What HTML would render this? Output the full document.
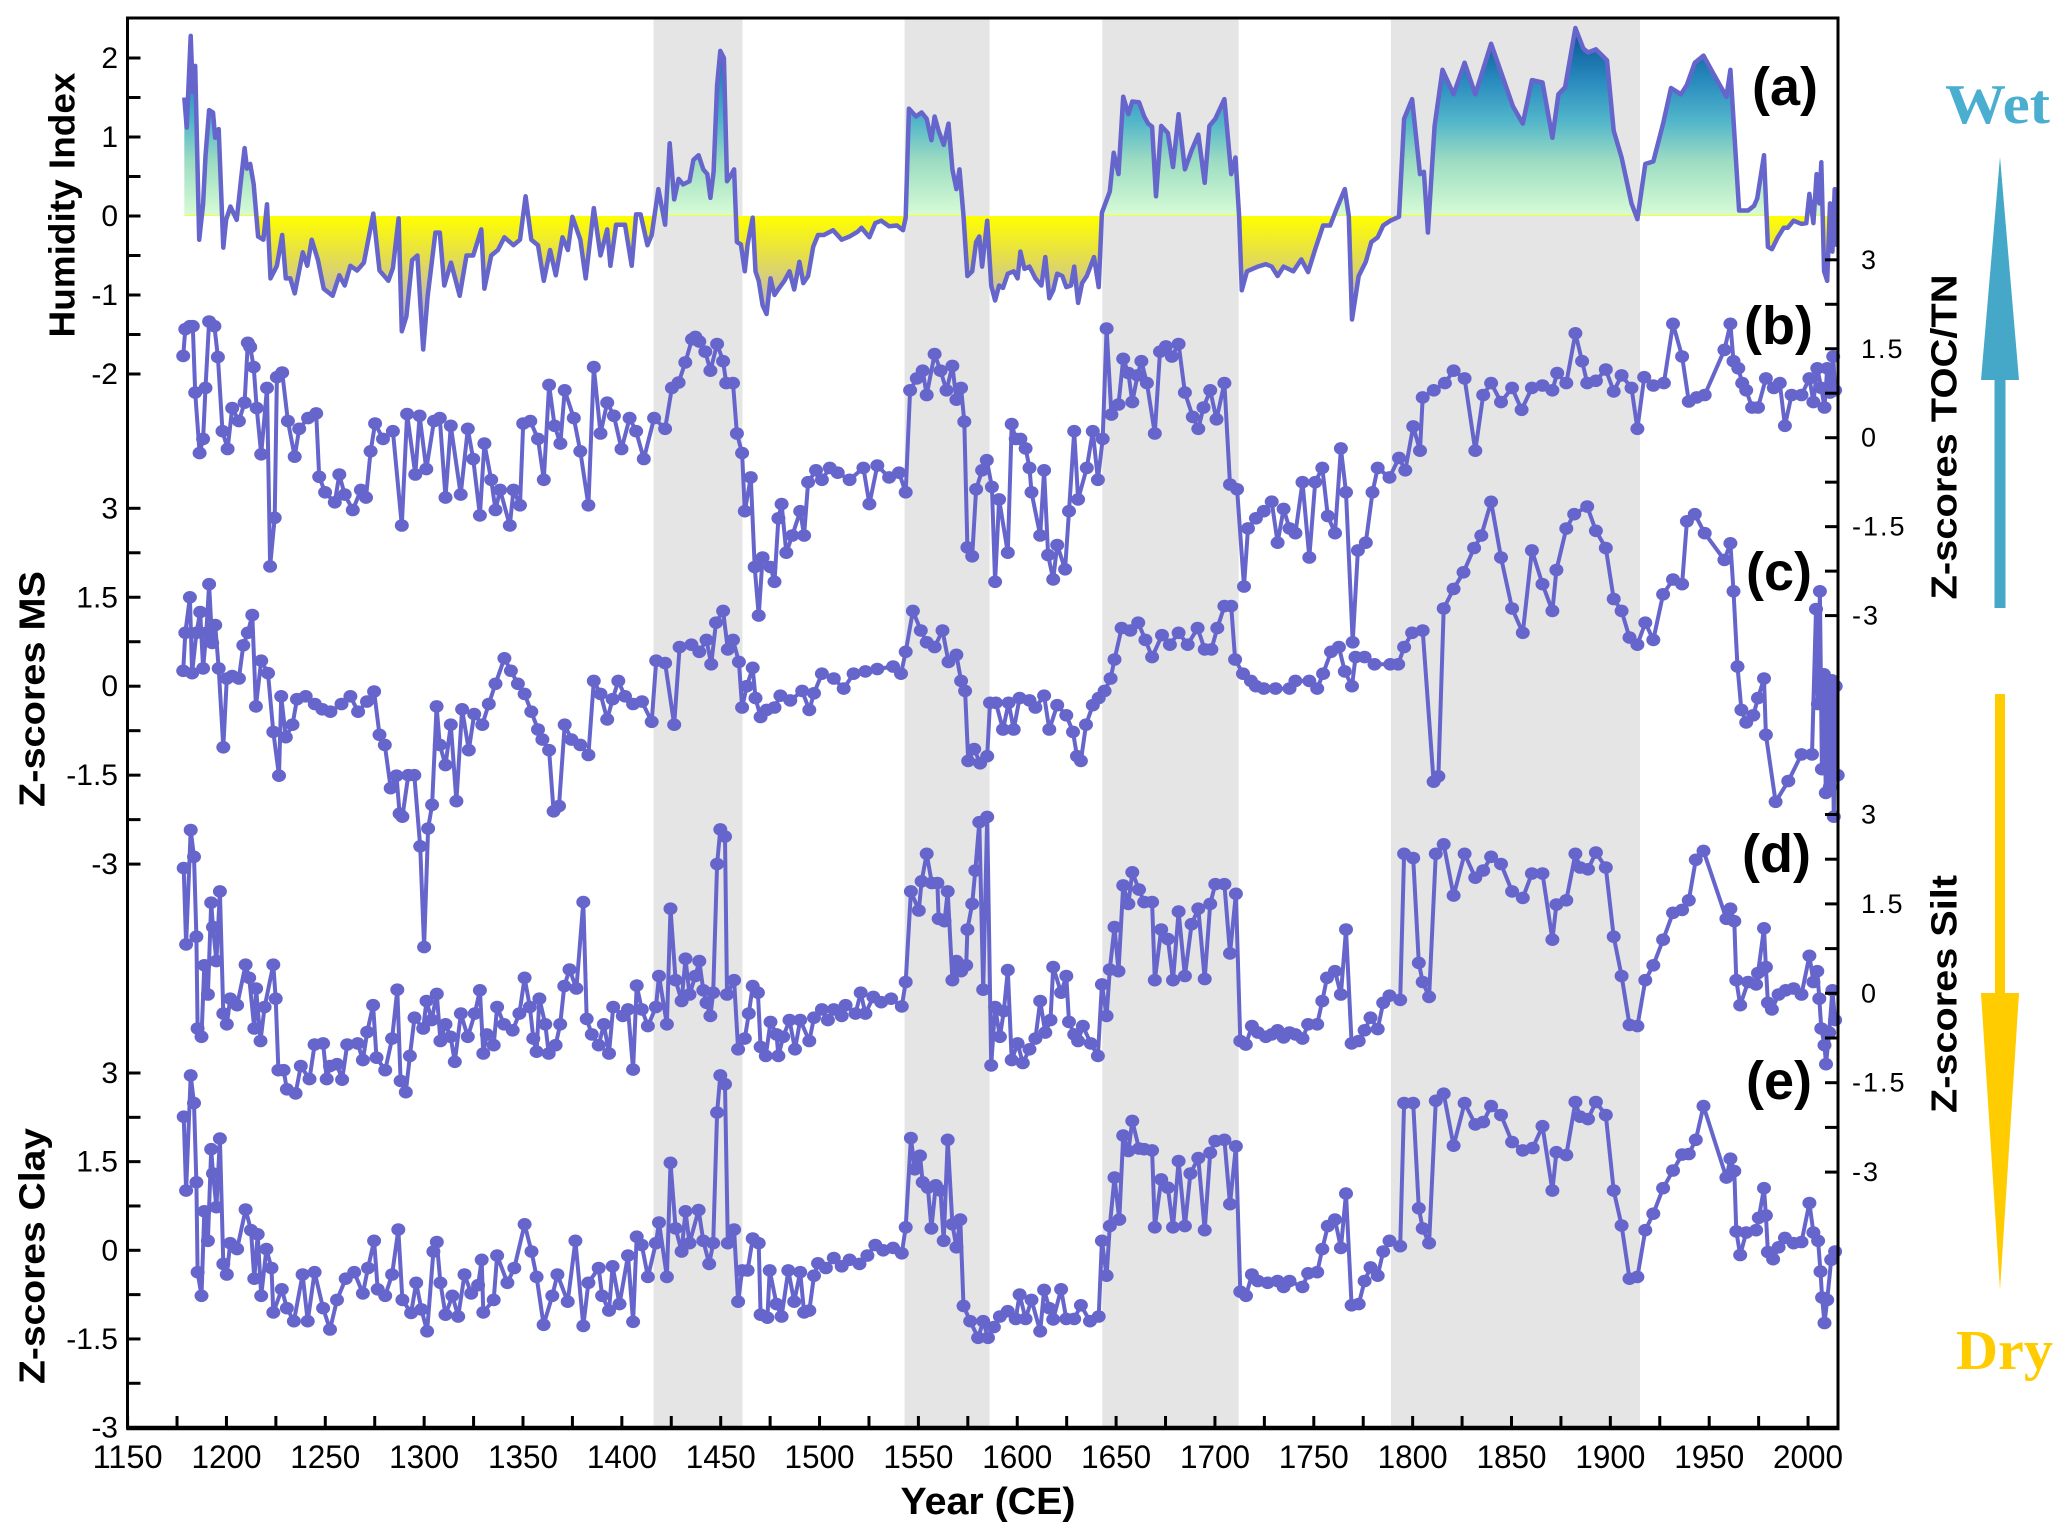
<!DOCTYPE html>
<html>
<head>
<meta charset="utf-8">
<style>
html,body{margin:0;padding:0;background:#fff;}
svg{display:block;}
text{font-family:"Liberation Sans",sans-serif;}
</style>
</head>
<body>
<svg id="chart" xmlns="http://www.w3.org/2000/svg" width="2067" height="1539" viewBox="0 0 2067 1539">
<defs>
<linearGradient id="humGrad" gradientUnits="userSpaceOnUse" x1="0" x2="0" y1="26" y2="358">
<stop id="s0" offset="0" stop-color="#0a5898"/>
</linearGradient>
</defs>
<g id="bands"></g>
<g id="series"></g>
<g id="axes"></g>
<g id="labels"></g>
</svg>
<script>
// ---------- data ----------
const bandStarts = [1416, 1543, 1643, 1789];
const bandEnds = [1461, 1586, 1712, 1915];

const humYears = [1178.7,1179.9,1181.9,1183.0,1184.2,1186.2,1188.2,1189.4,1191.2,1193.2,
1194.3,1196.1,1198.4,1199.8,1202.0,1205.2,1207.4,1209.2,1210.4,1212.0,
1213.8,1216.0,1218.7,1220.5,1222.3,1225.5,1228.2,1230.0,1232.3,1234.5,
1238.6,1240.9,1243.1,1246.3,1249.2,1253.7,1257.1,1259.8,1262.7,1266.1,
1269.5,1274.3,1277.4,1281.9,1284.2,1287.1,1288.7,1291.0,1293.9,1296.6,
1299.5,1301.8,1305.7,1307.9,1310.2,1313.6,1318.0,1321.4,1324.8,1328.9,
1330.5,1333.9,1337.3,1340.6,1345.2,1348.5,1351.3,1354.2,1357.6,1360.5,
1363.7,1366.6,1370.0,1372.7,1375.0,1379.0,1381.7,1385.8,1389.2,1392.6,
1394.2,1397.1,1401.6,1405.0,1407.2,1409.5,1412.9,1415.1,1418.5,1421.9,
1424.2,1426.5,1428.7,1431.0,1434.2,1436.2,1438.8,1441.2,1443.2,1444.8,
1446.4,1448.2,1449.8,1451.6,1453.2,1454.8,1456.8,1458.2,1460.2,1462.2,
1463.6,1466.2,1467.6,1469.2,1471.2,1473.2,1475.2,1477.2,1479.6,1482.2,
1484.8,1487.2,1489.8,1491.8,1494.2,1496.8,1499.2,1502.2,1506.8,1511.2,
1515.2,1519.2,1521.2,1525.2,1528.2,1531.2,1535.2,1539.2,1542.2,1543.6,
1545.2,1548.8,1551.6,1554.2,1556.6,1558.2,1560.2,1562.8,1565.2,1567.2,
1569.2,1570.8,1572.8,1574.8,1577.2,1579.2,1580.8,1582.2,1584.8,1586.8,
1588.8,1590.8,1592.8,1595.2,1598.2,1600.2,1601.6,1603.6,1606.2,1609.2,
1612.2,1614.2,1616.2,1618.2,1620.2,1622.8,1624.8,1627.2,1628.8,1630.8,
1632.8,1635.2,1638.8,1641.2,1642.8,1646.8,1648.8,1651.2,1653.6,1656.2,
1658.2,1661.6,1664.2,1666.2,1668.2,1670.2,1672.8,1676.2,1678.8,1681.6,
1684.8,1688.2,1691.6,1694.8,1697.2,1700.2,1704.8,1708.2,1710.4,1712.2,
1713.6,1716.2,1721.7,1725.7,1728.7,1731.7,1734.7,1739.7,1743.7,1747.1,
1750.7,1754.7,1758.3,1761.7,1765.7,1767.7,1769.3,1772.7,1776.3,1779.1,
1782.3,1785.1,1788.7,1793.1,1795.7,1799.7,1803.7,1805.7,1807.7,1811.1,
1815.1,1820.7,1826.3,1831.7,1839.7,1845.7,1850.7,1855.7,1860.3,1865.7,
1870.7,1873.7,1877.1,1882.3,1886.3,1888.7,1892.7,1898.3,1901.7,1905.7,
1910.7,1913.7,1917.7,1921.7,1926.7,1930.7,1935.7,1938.7,1942.7,1947.1,
1951.7,1958.7,1960.7,1965.1,1969.7,1972.7,1974.3,1977.7,1979.7,1981.7,
1984.7,1987.7,1989.7,1992.7,1996.7,1999.1,2000.7,2002.7,2004.3,2005.7,
2006.7,2008.1,2009.7,2011.1,2012.3,2013.5,2014.3];
const humVals = [1.5,1.12,2.28,1.57,1.9,-0.3,0.15,0.76,1.34,1.31,
0.99,1.1,-0.4,-0.05,0.12,-0.05,0.47,0.86,0.6,0.66,
0.4,-0.26,-0.3,0.15,-0.79,-0.63,-0.24,-0.79,-0.79,-0.98,
-0.46,-0.63,-0.3,-0.56,-0.92,-1.01,-0.75,-0.88,-0.63,-0.69,
-0.59,0.03,-0.69,-0.82,-0.66,-0.03,-1.46,-1.27,-0.56,-0.5,
-1.69,-1.01,-0.21,-0.21,-0.88,-0.59,-1.01,-0.5,-0.5,-0.17,
-0.92,-0.5,-0.43,-0.27,-0.37,-0.3,0.25,-0.3,-0.37,-0.82,
-0.43,-0.75,-0.27,-0.43,-0.01,-0.3,-0.79,0.1,-0.5,-0.17,
-0.63,-0.11,-0.11,-0.63,0.02,0.02,-0.37,-0.24,0.34,-0.11,
0.92,0.21,0.47,0.4,0.44,0.71,0.77,0.59,0.53,0.23,
0.56,1.66,2.09,2.0,0.44,0.5,0.59,-0.33,-0.36,-0.7,
-0.36,-0.02,-0.7,-0.82,-1.13,-1.24,-0.79,-1.0,-0.91,-0.82,
-0.7,-0.93,-0.58,-0.85,-0.76,-0.39,-0.24,-0.24,-0.18,-0.3,
-0.26,-0.2,-0.15,-0.27,-0.09,-0.06,-0.13,-0.12,-0.18,-0.02,
1.36,1.26,1.31,1.23,0.96,1.26,1.08,0.9,1.17,0.59,
0.34,0.59,0.0,-0.76,-0.7,-0.33,-0.26,-0.64,-0.06,-0.88,
-1.07,-0.88,-0.91,-0.73,-0.7,-0.79,-0.45,-0.67,-0.64,-0.79,
-0.88,-0.52,-1.04,-0.94,-0.73,-0.76,-0.9,-0.88,-0.64,-1.1,
-0.85,-0.76,-0.52,-0.9,0.04,0.31,0.8,0.53,1.51,1.29,
1.45,1.44,1.26,1.17,1.13,0.25,1.14,1.05,0.62,1.29,
0.59,0.83,1.03,0.42,1.14,1.23,1.48,0.53,0.74,0.0,
-0.94,-0.7,-0.64,-0.61,-0.64,-0.76,-0.64,-0.7,-0.55,-0.71,
-0.42,-0.12,-0.12,0.1,0.34,0.0,-1.31,-0.76,-0.58,-0.33,
-0.27,-0.12,-0.06,-0.01,1.23,1.48,0.53,0.56,-0.21,1.14,
1.85,1.54,1.94,1.54,2.18,1.75,1.39,1.17,1.72,1.69,
0.99,1.54,1.63,2.38,2.12,2.07,2.11,1.97,1.08,0.74,
0.16,-0.04,0.66,0.69,1.17,1.62,1.54,1.66,1.94,2.03,
1.82,1.51,1.85,0.07,0.07,0.13,0.22,0.77,-0.39,-0.42,
-0.27,-0.15,-0.15,-0.06,-0.1,-0.09,0.28,-0.09,0.53,0.16,
0.68,-0.7,-0.82,0.16,-0.45,0.34,-0.39];

const tocYears = [1178.1,1179.2,1181.5,1183.0,1184.2,1186.4,1188.2,1189.4,1191.2,1193.9,
1195.7,1198.0,1200.6,1202.9,1206.3,1209.2,1210.8,1212.0,1213.8,1215.3,
1217.6,1220.5,1222.1,1224.4,1225.5,1228.2,1231.1,1234.5,1236.8,1241.3,
1245.4,1246.9,1249.9,1254.8,1257.1,1259.8,1263.9,1268.0,1270.6,1272.9,
1275.2,1279.2,1284.2,1288.7,1291.4,1295.5,1297.7,1301.1,1305.0,1307.9,
1310.8,1313.5,1318.5,1322.1,1324.8,1328.2,1330.5,1333.9,1336.1,1338.4,
1343.3,1345.2,1348.5,1350.1,1353.7,1357.6,1360.5,1363.2,1366.0,1368.9,
1371.1,1375.7,1379.0,1383.1,1385.8,1389.2,1392.6,1396.0,1399.8,1403.9,
1407.2,1411.1,1416.3,1421.9,1425.3,1428.7,1432.1,1435.5,1437.2,1439.2,
1442.2,1444.8,1448.2,1451.2,1452.8,1456.2,1458.2,1460.8,1462.2,1465.2,
1467.2,1469.2,1471.2,1475.2,1477.2,1479.2,1480.8,1483.2,1486.2,1490.2,
1492.2,1494.2,1498.2,1501.2,1505.2,1509.2,1515.2,1522.2,1525.2,1529.2,
1535.2,1540.2,1543.6,1545.8,1549.2,1552.2,1554.2,1558.2,1561.2,1564.2,
1567.2,1569.2,1571.6,1573.2,1574.8,1577.2,1579.2,1582.2,1584.6,1587.2,
1588.8,1590.8,1595.2,1597.2,1599.2,1601.6,1604.2,1606.2,1607.2,1611.6,
1613.6,1615.6,1618.2,1620.2,1624.2,1626.2,1628.8,1630.8,1635.2,1638.2,
1640.8,1643.2,1645.2,1647.6,1651.2,1653.6,1656.2,1658.2,1660.8,1662.8,
1665.6,1669.6,1672.2,1675.2,1678.2,1681.6,1684.8,1688.8,1691.6,1694.2,
1697.6,1700.8,1704.8,1707.6,1711.2,1714.7,1716.7,1720.7,1724.7,1728.7,
1731.7,1734.7,1737.7,1740.7,1744.3,1747.7,1750.7,1754.3,1757.1,1760.7,
1763.7,1766.3,1769.7,1772.3,1776.3,1779.7,1782.3,1788.3,1793.1,1796.3,
1800.3,1803.7,1805.1,1810.7,1816.3,1820.7,1826.3,1831.7,1835.7,1839.7,
1844.7,1850.3,1855.1,1860.3,1865.7,1870.7,1873.1,1877.7,1882.3,1885.7,
1888.3,1892.7,1897.7,1901.7,1905.7,1910.7,1913.7,1917.1,1921.7,1927.1,
1931.7,1936.3,1939.7,1943.7,1947.7,1957.7,1960.7,1962.3,1964.7,1966.7,
1968.7,1971.7,1974.7,1978.7,1982.7,1985.7,1988.3,1991.7,1996.7,2000.7,
2002.7,2004.7,2006.7,2008.3,2009.7,2011.1,2012.7,2013.7];
const tocVals = [1.38,1.83,1.88,1.88,0.76,-0.26,-0.02,0.84,1.96,1.88,
1.36,0.11,-0.19,0.5,0.28,0.59,1.6,1.53,1.19,0.5,
-0.28,0.84,-2.17,-1.35,1.02,1.1,0.28,-0.32,0.15,0.33,
0.41,-0.66,-0.92,-1.09,-0.62,-0.96,-1.22,-0.88,-1.01,-0.23,
0.24,-0.02,0.11,-1.48,0.4,-0.62,0.37,-0.53,0.28,0.33,
-1.01,0.2,-0.96,0.15,-0.36,-1.31,-0.1,-0.71,-1.22,-0.88,
-1.48,-0.88,-1.14,0.24,0.28,-0.02,-0.71,0.89,0.2,-0.1,
0.8,0.33,-0.23,-1.14,1.19,0.07,0.59,0.37,-0.19,0.33,
0.11,-0.36,0.33,0.15,0.84,0.93,1.27,1.66,1.7,1.62,
1.45,1.13,1.58,1.29,0.92,0.92,0.07,-0.26,-1.24,-0.67,
-2.18,-3.0,-2.02,-2.18,-2.43,-1.36,-1.12,-1.94,-1.65,-1.24,
-1.65,-0.75,-0.55,-0.71,-0.51,-0.59,-0.71,-0.51,-1.12,-0.47,
-0.67,-0.59,-0.92,0.8,1.0,1.13,0.72,1.41,1.13,0.8,
1.21,0.64,0.84,0.27,-1.85,-2.0,-0.87,-0.55,-0.38,-0.83,
-2.43,-1.04,-1.94,0.23,-0.02,-0.02,-0.18,-0.51,-0.92,-1.65,
-0.55,-1.98,-2.39,-1.81,-2.22,-1.24,0.11,-1.04,-0.51,0.11,
-0.71,-0.02,1.84,0.39,0.56,1.33,1.09,0.6,1.05,1.29,
0.92,0.07,1.45,1.54,1.37,1.58,0.76,0.35,0.15,0.51,
0.8,0.31,0.92,-0.79,-0.87,-2.51,-1.53,-1.36,-1.24,-1.08,
-1.77,-1.2,-1.53,-1.61,-0.75,-2.02,-0.75,-0.51,-1.32,-1.61,
-0.18,-0.92,-3.45,-1.9,-1.77,-0.92,-0.51,-0.67,-0.34,-0.55,
0.19,-0.22,0.68,0.8,0.92,1.13,1.0,-0.22,0.72,0.92,
0.6,0.84,0.47,0.84,0.88,0.8,1.09,0.92,1.76,1.29,
0.92,0.96,1.15,0.78,1.05,0.84,0.15,1.02,0.88,0.92,
1.92,1.37,0.61,0.68,0.72,1.48,1.92,1.29,1.17,0.92,
0.8,0.51,0.51,1.0,0.84,0.92,0.2,0.72,0.72,1.0,
0.6,1.17,0.84,0.51,1.17,0.76,1.37,0.8];

const msYears = [1178.1,1179.2,1181.5,1182.6,1184.8,1186.7,1188.2,1189.8,1191.2,1192.8,
1194.3,1196.1,1198.4,1200.2,1202.9,1206.3,1208.5,1210.8,1213.1,1214.9,
1217.6,1221.0,1223.7,1226.6,1227.7,1230.0,1233.4,1235.7,1240.1,1244.7,
1248.5,1252.6,1258.2,1262.7,1266.6,1271.1,1274.7,1277.4,1280.1,1283.1,
1286.0,1287.6,1289.0,1292.0,1295.0,1298.0,1300.0,1302.0,1304.0,1306.3,
1307.9,1310.8,1313.5,1316.3,1319.2,1322.6,1325.3,1329.4,1332.7,1336.1,
1340.6,1343.9,1347.4,1350.8,1354.2,1357.6,1359.8,1363.2,1365.5,1368.2,
1371.1,1374.5,1379.0,1383.1,1385.8,1389.2,1392.6,1395.3,1398.2,1401.6,
1405.7,1410.2,1415.1,1417.4,1421.9,1426.5,1429.2,1435.2,1439.2,1442.8,
1445.2,1447.6,1451.2,1453.6,1456.2,1459.2,1460.8,1463.2,1466.2,1467.6,
1470.2,1473.2,1477.2,1480.2,1485.2,1491.2,1494.8,1497.2,1501.2,1507.2,
1512.2,1517.2,1523.2,1529.2,1537.2,1541.2,1543.6,1547.2,1551.2,1554.2,
1558.2,1562.2,1565.2,1569.2,1571.6,1573.6,1575.2,1578.2,1581.2,1584.8,
1586.2,1589.2,1592.8,1595.6,1598.2,1601.2,1606.2,1609.2,1613.6,1616.2,
1620.2,1624.8,1628.2,1630.2,1632.2,1634.8,1638.2,1641.2,1644.2,1647.2,
1649.2,1652.8,1657.2,1661.2,1664.8,1668.2,1673.2,1677.2,1681.6,1686.2,
1691.2,1694.8,1698.2,1701.2,1704.8,1708.2,1710.2,1714.2,1718.2,1720.7,
1724.7,1730.7,1737.7,1740.7,1747.7,1751.7,1754.7,1758.7,1762.7,1765.7,
1769.3,1771.1,1775.7,1780.7,1788.7,1792.7,1795.7,1799.7,1805.1,1810.6,
1813.0,1815.7,1820.7,1825.7,1831.1,1834.7,1839.7,1844.7,1850.3,1855.7,
1860.3,1865.7,1870.7,1872.7,1877.7,1881.7,1888.3,1892.7,1897.7,1901.7,
1905.7,1909.7,1913.7,1917.7,1921.7,1926.7,1931.7,1936.3,1938.7,1942.7,
1947.7,1957.7,1960.7,1962.3,1964.3,1966.3,1968.7,1972.3,1974.7,1977.7,
1978.7,1983.6,1990.0,1996.7,2002.0,2004.0,2005.0,2006.0,2007.0,2008.0,
2009.0,2010.0,2011.0,2012.0,2013.0,2014.0,2015.0];
const msVals = [0.26,0.9,1.5,0.22,0.9,1.25,0.3,0.9,1.72,0.73,
1.03,0.3,-1.03,0.13,0.17,0.13,0.69,0.9,1.2,-0.34,
0.43,0.22,-0.77,-1.51,-0.17,-0.86,-0.65,-0.22,-0.17,-0.3,
-0.39,-0.43,-0.3,-0.17,-0.43,-0.26,-0.09,-0.82,-0.99,-1.72,
-1.51,-2.15,-2.2,-1.5,-1.5,-2.7,-4.4,-2.4,-2.0,-0.34,
-0.99,-1.33,-0.65,-1.94,-0.39,-1.08,-0.47,-0.65,-0.3,0.04,
0.47,0.26,0.04,-0.13,-0.43,-0.73,-0.9,-1.08,-2.11,-2.02,
-0.65,-0.9,-0.99,-1.16,0.09,-0.13,-0.56,-0.22,0.09,-0.17,
-0.3,-0.26,-0.6,0.43,0.39,-0.65,0.66,0.7,0.58,0.78,
0.37,1.07,1.27,0.62,0.78,0.41,-0.36,0.0,0.31,-0.2,
-0.52,-0.4,-0.36,-0.16,-0.24,-0.08,-0.4,-0.12,0.21,0.13,
-0.04,0.21,0.25,0.29,0.33,0.21,0.58,1.27,0.94,0.74,
0.66,0.94,0.41,0.53,0.09,-0.08,-1.26,-1.06,-1.3,-1.18,
-0.28,-0.28,-0.73,-0.28,-0.73,-0.2,-0.24,-0.36,-0.16,-0.73,
-0.32,-0.49,-0.77,-1.18,-1.26,-0.65,-0.32,-0.2,-0.08,0.13,
0.45,0.98,0.94,1.07,0.78,0.49,0.86,0.7,0.9,0.7,
0.98,0.62,0.62,0.98,1.35,1.35,0.45,0.21,0.09,0.0,
-0.04,-0.04,-0.04,0.09,0.09,-0.04,0.21,0.58,0.66,0.25,
0.0,0.49,0.49,0.37,0.37,0.37,0.66,0.9,0.94,-1.61,
-1.52,1.31,1.64,1.92,2.33,2.54,3.11,2.17,1.31,0.9,
2.29,1.72,1.27,1.96,2.66,2.9,3.03,2.62,2.33,1.47,
1.27,0.82,0.7,1.07,0.78,1.55,1.8,1.72,2.78,2.9,
2.58,2.13,2.41,1.6,0.33,-0.4,-0.61,-0.49,-0.2,0.13,
-0.82,-1.95,-1.6,-1.15,-1.15,1.3,-0.3,1.6,-1.4,0.2,
-1.8,0.0,-1.7,0.1,-2.2,0.0,-1.5];

const siltYears = [1178.4,1179.6,1181.9,1183.6,1184.8,1185.4,1187.4,1188.8,1190.6,1192.3,
1193.2,1194.9,1196.7,1198.4,1200.2,1201.9,1205.4,1209.7,1211.5,1214.1,
1215.0,1217.2,1219.3,1223.7,1224.9,1226.3,1228.9,1230.6,1235.0,1237.6,
1242.0,1244.6,1248.9,1250.7,1252.4,1255.9,1258.5,1261.1,1266.4,1269.0,
1271.2,1274.2,1275.9,1280.3,1283.8,1286.4,1288.1,1290.7,1292.8,1295.1,
1299.5,1301.2,1303.8,1306.4,1308.2,1310.8,1313.4,1315.5,1318.6,1322.1,
1325.6,1328.2,1329.9,1331.7,1335.2,1336.9,1340.4,1344.8,1348.2,1350.8,
1353.5,1355.2,1356.9,1358.3,1361.3,1363.0,1366.5,1368.8,1370.9,1373.5,
1377.0,1380.5,1382.2,1384.8,1388.3,1390.9,1393.5,1395.6,1400.5,1403.1,
1405.7,1407.5,1410.1,1413.2,1417.2,1418.8,1422.8,1424.6,1427.2,1430.2,
1432.2,1434.2,1437.2,1439.2,1441.2,1442.8,1444.8,1446.2,1448.2,1449.8,
1452.2,1453.2,1456.8,1458.8,1462.2,1464.2,1466.2,1468.8,1470.2,1472.8,
1475.2,1478.2,1479.2,1481.6,1484.8,1487.6,1490.2,1494.8,1497.2,1501.2,
1504.2,1507.2,1511.2,1513.2,1518.2,1520.8,1523.2,1527.2,1531.2,1536.2,
1541.6,1543.6,1546.2,1550.2,1551.6,1554.2,1556.8,1559.6,1560.2,1563.2,
1564.8,1567.2,1569.2,1571.6,1574.2,1574.8,1577.2,1578.8,1580.8,1582.8,
1584.8,1586.8,1588.8,1591.2,1593.2,1595.2,1597.2,1600.2,1602.8,1606.2,
1609.2,1611.6,1614.2,1616.8,1618.2,1622.2,1624.8,1626.2,1628.8,1630.8,
1633.2,1637.2,1640.8,1642.8,1645.2,1646.8,1649.2,1651.2,1653.6,1656.2,
1658.2,1661.6,1664.2,1668.2,1669.6,1672.8,1676.2,1678.8,1681.6,1684.8,
1688.2,1691.6,1694.8,1697.6,1700.2,1704.8,1707.6,1710.6,1712.8,1715.6,
1718.7,1721.7,1725.7,1728.7,1731.7,1734.7,1737.7,1740.7,1744.3,1747.1,
1751.7,1754.3,1756.7,1760.7,1763.7,1766.3,1769.1,1772.7,1775.7,1778.7,
1782.3,1785.1,1788.3,1793.7,1795.7,1800.3,1803.1,1805.1,1808.3,1811.7,
1815.7,1820.7,1826.3,1831.7,1835.7,1839.7,1844.7,1850.3,1855.7,1860.3,
1865.7,1870.7,1872.7,1877.7,1882.3,1884.7,1888.7,1892.7,1897.7,1901.7,
1905.7,1909.7,1913.7,1917.7,1921.7,1926.7,1931.7,1936.3,1939.7,1943.2,
1947.1,1958.7,1960.7,1962.7,1963.7,1965.7,1969.7,1973.7,1974.7,1977.7,
1978.7,1979.7,1981.7,1985.1,1988.7,1992.7,1996.7,2000.7,2002.7,2004.7,
2005.7,2006.7,2008.3,2009.1,2010.7,2012.3,2013.7];
const siltVals = [2.1,0.82,2.74,2.29,0.95,-0.59,-0.73,0.47,-0.02,1.52,
1.11,0.54,1.71,-0.34,-0.52,-0.09,-0.2,0.48,0.26,-0.59,
0.08,-0.8,-0.23,0.48,-0.09,-1.29,-1.29,-1.61,-1.68,-1.22,
-1.44,-0.86,-0.84,-1.44,-1.22,-1.19,-1.45,-0.86,-0.84,-1.12,
-0.65,-0.2,-1.08,-1.29,-0.76,0.06,-1.47,-1.66,-1.05,-0.41,
-0.59,-0.13,-0.45,-0.01,-0.8,-0.52,-0.73,-1.15,-0.34,-0.73,
-0.34,0.05,-1.01,-0.69,-0.87,-0.23,-0.52,-0.62,-0.34,0.26,
-0.23,-0.76,-0.98,-0.09,-0.52,-1.01,-0.87,-0.52,0.12,0.4,
0.08,1.53,-0.43,-0.69,-0.87,-0.52,-1.01,-0.23,-0.38,-0.27,
-1.28,0.13,-0.27,-0.55,-0.23,0.29,-0.52,1.42,0.22,-0.13,
0.58,-0.02,0.29,0.54,0.05,-0.16,-0.38,0.01,2.17,2.75,
2.63,-0.02,0.22,-0.94,-0.76,-0.34,0.12,0.01,-0.9,-1.05,
-0.48,-0.69,-1.05,-0.73,-0.45,-0.94,-0.45,-0.8,-0.41,-0.27,
-0.45,-0.27,-0.38,-0.2,-0.34,0.01,-0.34,-0.06,-0.15,-0.09,
-0.22,0.19,1.71,1.39,1.88,2.34,1.85,1.85,1.25,1.21,
1.71,0.22,0.54,0.37,0.47,1.07,1.5,2.06,2.87,0.06,
2.96,-1.21,-0.23,-0.73,-0.3,0.39,-1.12,-0.84,-1.17,-0.94,
-0.76,-0.13,-0.66,-0.45,0.44,0.01,0.29,-0.48,-0.69,-0.8,
-0.55,-0.84,-1.05,0.15,-0.38,0.4,1.11,0.37,1.81,1.5,
2.03,1.74,1.53,1.53,0.22,1.07,0.91,0.22,1.37,0.29,
1.16,1.42,0.24,1.5,1.83,1.83,0.67,1.67,-0.8,-0.86,
-0.55,-0.66,-0.73,-0.69,-0.62,-0.74,-0.66,-0.69,-0.76,-0.52,
-0.52,-0.13,0.26,0.37,-0.02,1.07,-0.84,-0.8,-0.62,-0.41,
-0.6,-0.16,-0.04,-0.11,2.34,2.27,0.51,0.19,-0.06,2.34,
2.5,1.64,2.34,1.94,2.06,2.29,2.17,1.71,1.6,2.01,
2.01,0.9,1.49,1.56,2.34,2.11,2.08,2.36,2.11,0.95,
0.29,-0.53,-0.55,0.22,0.47,0.9,1.35,1.4,1.56,2.24,
2.39,1.25,1.42,1.21,0.22,-0.2,0.19,0.15,0.34,1.09,
0.44,-0.16,-0.27,-0.02,0.05,0.08,-0.02,0.63,0.19,0.37,
-0.09,-0.59,-0.87,-1.19,-0.66,0.05,-0.45];

const clayYears = [1178.4,1179.6,1181.9,1183.6,1184.8,1185.4,1187.4,1188.8,1190.6,1192.3,
1193.2,1194.9,1196.7,1198.4,1200.2,1201.9,1205.4,1209.7,1212.4,1214.1,
1215.8,1217.6,1220.2,1222.8,1223.7,1228.0,1230.6,1234.1,1238.5,1241.1,
1244.6,1248.9,1252.4,1255.9,1260.3,1264.6,1269.0,1271.6,1274.7,1276.5,
1280.3,1283.8,1286.9,1289.0,1293.4,1296.0,1298.6,1301.5,1304.7,1306.4,
1308.2,1310.8,1314.3,1317.2,1320.4,1323.8,1327.3,1329.1,1329.9,1335.2,
1336.9,1342.1,1345.6,1350.8,1354.3,1356.9,1360.4,1364.8,1367.4,1372.6,
1376.5,1380.5,1383.1,1388.3,1390.0,1393.5,1395.3,1398.8,1403.1,1405.7,
1407.5,1410.1,1413.2,1417.2,1418.8,1422.8,1424.6,1427.2,1430.2,1432.2,
1434.2,1438.8,1441.2,1444.2,1446.2,1448.2,1449.8,1452.2,1453.6,1456.8,
1458.8,1460.8,1463.6,1466.2,1469.2,1470.2,1473.6,1474.8,1478.2,1480.8,
1484.2,1487.2,1490.2,1492.2,1494.8,1497.2,1499.2,1503.2,1507.2,1511.2,
1515.2,1520.2,1524.2,1528.2,1532.2,1537.2,1541.6,1543.6,1546.2,1548.2,
1550.8,1552.2,1554.8,1556.6,1558.8,1561.2,1562.8,1564.8,1567.2,1569.2,
1571.2,1572.8,1576.2,1580.2,1582.8,1585.2,1588.2,1591.2,1595.2,1599.2,
1601.2,1604.2,1607.2,1611.6,1613.6,1616.2,1618.2,1622.2,1624.8,1628.8,
1632.2,1636.8,1641.2,1642.8,1645.2,1646.8,1649.2,1651.6,1653.6,1656.2,
1658.2,1661.6,1664.2,1668.2,1669.6,1672.8,1676.2,1678.8,1681.6,1684.8,
1687.6,1691.6,1694.8,1697.6,1700.2,1704.8,1707.6,1710.6,1712.8,1715.7,
1718.7,1721.7,1726.7,1731.7,1734.7,1737.7,1744.3,1747.1,1751.7,1754.3,
1757.1,1760.7,1763.7,1766.3,1769.1,1772.7,1775.7,1778.7,1782.3,1785.1,
1788.3,1793.7,1795.7,1800.3,1803.1,1805.1,1808.3,1811.7,1815.7,1820.7,
1826.3,1831.7,1835.7,1839.7,1844.7,1850.3,1855.7,1860.7,1865.7,1870.7,
1872.7,1877.7,1882.3,1884.7,1888.7,1892.7,1897.7,1901.7,1905.7,1909.7,
1913.7,1917.7,1921.7,1926.7,1931.7,1936.3,1939.7,1943.2,1947.1,1958.7,
1960.7,1962.7,1963.7,1965.7,1968.7,1973.7,1975.1,1977.7,1978.7,1979.7,
1982.3,1985.1,1988.3,1992.7,1996.7,2000.7,2002.7,2005.1,2006.3,2007.1,
2008.3,2009.7,2011.7,2013.7];
const clayVals = [2.26,1.01,2.96,2.49,1.15,-0.37,-0.77,0.66,0.16,1.71,
1.3,0.73,1.89,-0.23,-0.41,0.12,0.02,0.69,0.34,-0.48,
0.27,-0.77,0.02,-0.3,-1.05,-0.66,-0.98,-1.2,-0.41,-1.2,
-0.37,-0.98,-1.34,-0.84,-0.48,-0.37,-0.73,-0.3,0.16,-0.66,
-0.77,-0.41,0.35,-0.84,-1.06,-0.55,-1.0,-1.37,-0.02,0.14,
-0.55,-1.09,-0.77,-1.12,-0.41,-0.73,-0.59,-0.16,-1.05,-0.84,
-0.09,-0.55,-0.3,0.44,-0.02,-0.45,-1.26,-0.77,-0.41,-0.87,
0.16,-1.28,-0.55,-0.3,-0.77,-1.02,-0.27,-0.91,-0.09,-1.21,
0.23,0.09,-0.45,0.12,0.47,-0.45,1.48,0.37,-0.02,0.66,
0.12,0.68,0.16,-0.23,0.12,2.33,2.96,2.81,0.12,0.35,
-0.87,-0.34,-0.34,0.2,0.12,-1.09,-1.14,-0.34,-0.91,-1.12,
-0.34,-0.87,-0.37,-1.05,-1.02,-0.43,-0.22,-0.3,-0.13,-0.27,
-0.16,-0.23,-0.09,0.09,0.0,0.04,-0.05,0.39,1.9,1.37,
1.6,1.15,1.06,0.37,1.1,1.01,0.16,1.87,0.44,0.05,
0.52,-0.94,-1.2,-1.48,-1.2,-1.48,-1.3,-1.12,-1.03,-1.16,
-0.75,-1.16,-0.84,-1.37,-0.67,-0.98,-1.17,-0.66,-1.16,-1.16,
-0.93,-1.2,-1.12,0.16,-0.43,0.41,1.23,0.52,1.94,1.68,
2.19,1.72,1.71,1.69,0.39,1.2,1.06,0.39,1.51,0.41,
1.3,1.56,0.34,1.65,1.85,1.87,0.78,1.76,-0.7,-0.77,
-0.41,-0.52,-0.55,-0.52,-0.62,-0.52,-0.62,-0.39,-0.37,0.02,
0.41,0.52,0.04,0.96,-0.93,-0.91,-0.52,-0.29,-0.43,-0.02,
0.16,0.07,2.49,2.49,0.71,0.37,0.12,2.53,2.65,1.77,
2.49,2.13,2.17,2.44,2.29,1.83,1.69,1.73,2.1,1.01,
1.66,1.61,2.51,2.26,2.22,2.51,2.29,1.01,0.42,-0.48,
-0.45,0.34,0.62,1.05,1.35,1.62,1.63,1.87,2.44,1.23,
1.55,1.34,0.32,-0.08,0.3,0.34,0.55,1.05,0.59,-0.03,
-0.15,0.05,0.21,0.12,0.14,0.8,0.3,0.16,-0.36,-0.8,
-1.23,-0.84,-0.16,-0.02];

const yearTicks = [1150,1200,1250,1300,1350,1400,1450,1500,1550,1600,1650,1700,1750,1800,1850,1900,1950,2000];
const humTickLabels = [2,1,0,-1,-2];
const zTickLabels = [3,1.5,0,-1.5,-3];

// ---------- scales ----------
const NS = "http://www.w3.org/2000/svg";
const X0 = 127.6, PX = 1.977;
function xS(yr){ return X0 + PX*(yr-1150); }
function yHum(v){ return 216 - 79*v; }
function yToc(v){ return 437.7 - 59.3*v; }
function yMs(v){ return 686.2 - 59.3*v; }
function ySilt(v){ return 993.3 - 59.6*v; }
function yClay(v){ return 1250.3 - 59.1*v; }
const LEFT = 127.5, RIGHT = 1838, TOP = 18, BOTTOM = 1428;
const COLOR = "#6565cc";

function mk(tag, attrs, parent){
  const el = document.createElementNS(NS, tag);
  for (const k in attrs) el.setAttribute(k, attrs[k]);
  parent.appendChild(el);
  return el;
}

const gBands = document.getElementById('bands');
const gSeries = document.getElementById('series');
const gAxes = document.getElementById('axes');
const gLabels = document.getElementById('labels');

for (let i=0;i<bandStarts.length;i++){
  const r = mk('rect',{x:xS(bandStarts[i]),y:TOP+1.5,width:xS(bandEnds[i])-xS(bandStarts[i]),height:BOTTOM-TOP-3,fill:'#e5e5e5'},gBands);
  
  
}

const grad = document.getElementById('humGrad');
grad.innerHTML='';
const gy1 = yHum(2.4), gy2 = yHum(-1.8);
grad.setAttribute('y1', gy1); grad.setAttribute('y2', gy2);
const stopVals = [2.3,1.7,1.2,0.7,0.02,0.0,-0.5,-1.0,-1.8];
const stopCols = ['#0a5898','#2a8cbf','#52b6ca','#9cdcc2','#d6fbd6','#ffff00','#e6df4a','#c8c0a8','#b6b0b2'];
for (let i=0;i<stopVals.length;i++){
  mk('stop',{offset:((yHum(stopVals[i])-gy1)/(gy2-gy1)).toFixed(4),'stop-color':stopCols[i]},grad);
}

let areaD = 'M'+xS(humYears[0])+','+yHum(0);
let lineD = '';
for (let i=0;i<humYears.length;i++){
  areaD += ' L'+xS(humYears[i]).toFixed(1)+','+yHum(humVals[i]).toFixed(1);
  lineD += (i?' L':'M')+xS(humYears[i]).toFixed(1)+','+yHum(humVals[i]).toFixed(1);
}
areaD += ' L'+xS(humYears[humYears.length-1])+','+yHum(0)+' Z';
const area = mk('path',{d:areaD,fill:'url(#humGrad)',stroke:'none'},gSeries);


const hline = mk('path',{d:lineD,fill:'none',stroke:COLOR,'stroke-width':4.5,'stroke-linejoin':'round'},gSeries);



function drawSeries(years, vals, yf, name){
  const g = mk('g',{},gSeries);
  
  
  let d='';
  for (let i=0;i<years.length;i++) d += (i?' L':'M')+xS(years[i]).toFixed(1)+','+yf(vals[i]).toFixed(1);
  const p = mk('path',{d:d,fill:'none',stroke:COLOR,'stroke-width':4,'stroke-linejoin':'round'},g);
  
  
  for (let i=0;i<years.length;i++){
    const c = mk('ellipse',{cx:xS(years[i]).toFixed(1),cy:yf(vals[i]).toFixed(1),rx:7,ry:6.3,fill:COLOR},g);
    
    
  }
}
drawSeries(tocYears, tocVals, yToc, 'toc-tn');
drawSeries(msYears, msVals, yMs, 'ms');
drawSeries(siltYears, siltVals, ySilt, 'silt');
drawSeries(clayYears, clayVals, yClay, 'clay');

const frame = mk('rect',{x:LEFT,y:TOP,width:RIGHT-LEFT,height:BOTTOM-TOP,fill:'none',stroke:'#000','stroke-width':3},gAxes);


const bax = mk('line',{x1:LEFT-1,x2:RIGHT+1.5,y1:BOTTOM,y2:BOTTOM,stroke:'#000','stroke-width':4.5},gAxes);



for (let yr=1150; yr<=2015; yr+=25){
  const t = mk('line',{x1:xS(yr),x2:xS(yr),y1:BOTTOM,y2:BOTTOM-12,stroke:'#000','stroke-width':3},gAxes);
  
  
}
for (let i=0;i<yearTicks.length;i++){
  const t = mk('text',{x:xS(yearTicks[i]),y:1468,'text-anchor':'middle','font-size':32,textLength:70,lengthAdjust:'spacingAndGlyphs',fill:'#000'},gLabels);
  t.textContent = yearTicks[i];
  
  
}

function yTicks(yf, lo, hi, step, side, labels, name){
  for (let v=hi; v>=lo-1e-9; v-=step){
    const y = yf(v);
    const x1 = side==='left'? LEFT : RIGHT;
    const x2 = side==='left'? LEFT+13 : RIGHT-13;
    const t = mk('line',{x1:x1,x2:x2,y1:y,y2:y,stroke:'#000','stroke-width':3},gAxes);
    
    
  }
  for (let i=0;i<labels.length;i++){
    const v = labels[i];
    let t;
    if (side==='left'){
      t = mk('text',{x:118,y:yf(v)+10,'text-anchor':'end','font-size':30,fill:'#000'},gLabels);
    } else {
      t = mk('text',{x:(v<0?1852:1861),y:yf(v)+9,'text-anchor':'start','font-size':27,'letter-spacing':2,fill:'#000'},gLabels);
    }
    t.textContent = String(v);
    
    
  }
}
yTicks(yHum, -2, 2, 0.5, 'left', humTickLabels, 'humidity-y');
yTicks(yMs, -3, 3, 0.75, 'left', zTickLabels, 'ms-y');
yTicks(yClay, -3, 3, 0.75, 'left', zTickLabels, 'clay-y');
yTicks(yToc, -3, 3, 0.75, 'right', zTickLabels, 'toc-y');
yTicks(ySilt, -3, 3, 0.75, 'right', zTickLabels, 'silt-y');
</script>

<script>
(function(){
  const NS2 = "http://www.w3.org/2000/svg";
  const gL = document.getElementById('labels');
  function txt(content, attrs, name){
    const t = document.createElementNS(NS2,'text');
    for (const k in attrs) t.setAttribute(k, attrs[k]);
    t.textContent = content;
    
    
    gL.appendChild(t);
    return t;
  }
  const rotTitle = {'text-anchor':'middle','dominant-baseline':'central','font-size':36,'font-weight':'bold',lengthAdjust:'spacingAndGlyphs',fill:'#000'};
  txt('Humidity Index', Object.assign({}, rotTitle, {x:62,y:205,transform:'rotate(-90 62 205)',textLength:265}), 'humidity-y-axis-title');
  txt('Z-scores MS', Object.assign({}, rotTitle, {x:32,y:689,transform:'rotate(-90 32 689)',textLength:236}), 'ms-y-axis-title');
  txt('Z-scores Clay', Object.assign({}, rotTitle, {x:32,y:1256,transform:'rotate(-90 32 1256)',textLength:256}), 'clay-y-axis-title');
  txt('Z-scores TOC/TN', Object.assign({}, rotTitle, {x:1944,y:437,transform:'rotate(-90 1944 437)',textLength:325}), 'toc-y-axis-title');
  txt('Z-scores Silt', Object.assign({}, rotTitle, {x:1944,y:994,transform:'rotate(-90 1944 994)',textLength:238}), 'silt-y-axis-title');
  txt('Year (CE)', {x:988,y:1514,'text-anchor':'middle','font-size':38,'font-weight':'bold',textLength:175,lengthAdjust:'spacingAndGlyphs',fill:'#000'}, 'x-axis-title');

  const pl = {'font-size':54,'font-weight':'bold',fill:'#000'};
  txt('(a)', Object.assign({}, pl, {x:1752,y:105}), 'panel-label-a');
  txt('(b)', Object.assign({}, pl, {x:1744,y:344}), 'panel-label-b');
  txt('(c)', Object.assign({}, pl, {x:1746,y:590}), 'panel-label-c');
  txt('(d)', Object.assign({}, pl, {x:1742,y:872}), 'panel-label-d');
  txt('(e)', Object.assign({}, pl, {x:1746,y:1099}), 'panel-label-e');

  txt('Wet', {x:1945,y:123,'font-size':56,'font-weight':'bold',fill:'#4aaed0',textLength:105,lengthAdjust:'spacingAndGlyphs',style:'font-family:"Liberation Serif",serif'}, 'wet-label');
  txt('Dry', {x:1956,y:1369,'font-size':56,'font-weight':'bold',fill:'#ffcc00',textLength:97,lengthAdjust:'spacingAndGlyphs',style:'font-family:"Liberation Serif",serif'}, 'dry-label');

  function shape(tag, attrs, name){
    const e = document.createElementNS(NS2, tag);
    for (const k in attrs) e.setAttribute(k, attrs[k]);
    
    
    gL.appendChild(e);
  }
  shape('rect',{x:1994.5,y:376,width:11,height:232,fill:'#45a8c8'},'wet-arrow-shaft');
  shape('polygon',{points:'2000,157 1981,380 2019,380',fill:'#45a8c8'},'wet-arrow-head');
  shape('rect',{x:1995,y:694,width:10,height:302,fill:'#ffcc00'},'dry-arrow-shaft');
  shape('polygon',{points:'1981,993 2019,993 2000,1290',fill:'#ffcc00'},'dry-arrow-head');
})();
</script>
</body>
</html>
